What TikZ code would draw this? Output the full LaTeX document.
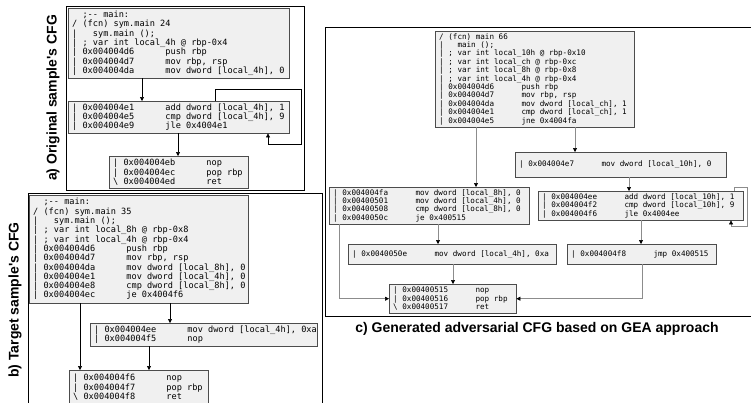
\documentclass[tikz,border=0pt]{standalone}
\usepackage{fontspec}
\usetikzlibrary{arrows.meta}
\newfontfamily\asmfont{DejaVu Sans Mono}
\newfontfamily\capfont{Liberation Sans}
% fixed-width spaces for the listings
\newcommand\gap[1]{\hspace*{#1\dimexpr0.602em\relax}}
\newcommand\cmt[1]{\mbox{\spaceskip=0.602em\relax#1}}
% one line of disassembly: marker, address, instruction
\newcommand\ins[3][|]{\cmt{#1\gap1#2\gap6#3}}
\tikzset{
  blk/.style={draw=black!70, fill=black!6, anchor=north west, inner xsep=4pt, inner ysep=2pt, align=left},
  asmab/.style={font=\asmfont\fontsize{8.6}{9.3}\selectfont},
  asmc/.style={font=\asmfont\fontsize{7.6}{8.4}\selectfont},
  frm/.style={draw=black, line width=0.8pt},
  arr/.style={-{Triangle[length=4pt,width=4pt]}, line width=0.6pt},
  garr/.style={-{Triangle[length=4pt,width=4pt,color=black]}, line width=0.6pt, draw=black!45},
  lbl/.style={font=\capfont\bfseries\fontsize{14}{16}\selectfont}
}
\begin{document}
\begin{tikzpicture}[x=1pt,y=-1pt]
    \clip (0,0) rectangle (751,402);
    % panel frames
    \draw[frm] (66,6) rectangle (304,190);
    \draw[frm] (28,193) rectangle (322,420);
    \draw[frm] (325,27) rectangle (760,316);

    % a) original sample
    \node[blk, asmab, text width=213pt, minimum height=70pt] (a1) at (68,8) {%
        \cmt{\gap2;-{}- main:}\\
        \cmt{/ (fcn) sym.main 24}\\
        \cmt{|\gap3sym.main ();}\\
        \cmt{| ; var int local\_4h @ rbp-0x4}\\
        \ins{0x004004d6}{push rbp}\\
        \ins{0x004004d7}{mov rbp, rsp}\\
        \ins{0x004004da}{mov dword [local\_4h], 0}};
    \node[blk, asmab, text width=213pt, minimum height=32pt] (a2) at (68,101) {%
        \ins{0x004004e1}{add dword [local\_4h], 1}\\
        \ins{0x004004e5}{cmp dword [local\_4h], 9}\\
        \ins{0x004004e9}{jle 0x4004e1}};
    \node[blk, asmab, text width=131pt, minimum height=32pt] (a3) at (109,156) {%
        \ins{0x004004eb}{nop}\\
        \ins{0x004004ec}{pop rbp}\\
        \ins[\textbackslash]{0x004004ed}{ret}};
    \draw[arr] ([xshift=74pt]a1.south west) -- ([xshift=74pt]a2.north west);
    \draw[arr] ([xshift=110pt]a2.south west) -- ([xshift=69pt]a3.north west);
    \draw[arr] ([xshift=147pt]a2.north west) -- ++(0,-12) -| (301,144) -| ([xshift=200pt]a2.south west); % loop back
    \node[lbl, rotate=90] (la) at (53,98) {a) Original sample's CFG};

    % b) target sample
    \node[blk, asmab, text width=211pt, minimum height=108pt] (b1) at (29,195) {%
        \cmt{\gap2;-{}- main:}\\
        \cmt{/ (fcn) sym.main 35}\\
        \cmt{|\gap3sym.main ();}\\
        \cmt{| ; var int local\_8h @ rbp-0x8}\\
        \cmt{| ; var int local\_4h @ rbp-0x4}\\
        \ins{0x004004d6}{push rbp}\\
        \ins{0x004004d7}{mov rbp, rsp}\\
        \ins{0x004004da}{mov dword [local\_8h], 0}\\
        \ins{0x004004e1}{mov dword [local\_4h], 0}\\
        \ins{0x004004e8}{cmp dword [local\_8h], 0}\\
        \ins{0x004004ec}{je 0x4004f6}};
    \node[blk, asmab, text width=219pt, minimum height=23pt] (b2) at (90,323) {%
        \ins{0x004004ee}{mov dword [local\_4h], 0xa}\\
        \ins{0x004004f5}{nop}};
    \node[blk, asmab, text width=131pt, minimum height=34pt] (b3) at (69,370) {%
        \ins{0x004004f6}{nop}\\
        \ins{0x004004f7}{pop rbp}\\
        \ins[\textbackslash]{0x004004f8}{ret}};
    \draw[arr] ([xshift=141pt]b1.south west) -- ([xshift=80pt]b2.north west);
    \draw[arr] ([xshift=51pt]b1.south west) -- ([xshift=11pt]b3.north west);
    \draw[arr] ([xshift=59pt]b2.south west) -- ([xshift=80pt]b3.north west);
    \node[lbl, rotate=90] (lb) at (15,300) {b) Target sample's CFG};

    % c) generated adversarial sample
    \node[blk, asmc, text width=191pt, minimum height=96pt] (c1) at (435,31) {%
        \cmt{/ (fcn) main 66}\\
        \cmt{|\gap3main ();}\\
        \cmt{| ; var int local\_10h @ rbp-0x10}\\
        \cmt{| ; var int local\_ch @ rbp-0xc}\\
        \cmt{| ; var int local\_8h @ rbp-0x8}\\
        \cmt{| ; var int local\_4h @ rbp-0x4}\\
        \ins{0x004004d6}{push rbp}\\
        \ins{0x004004d7}{mov rbp, rsp}\\
        \ins{0x004004da}{mov dword [local\_ch], 1}\\
        \ins{0x004004e1}{cmp dword [local\_ch], 1}\\
        \ins{0x004004e5}{jne 0x4004fa}};
    \node[blk, asmc, text width=203pt, minimum height=25pt] (c2) at (515,152) {%
        \ins{0x004004e7}{mov dword [local\_10h], 0}};
    \node[blk, asmc, text width=192pt, minimum height=36pt] (c3) at (329,187) {%
        \ins{0x004004fa}{mov dword [local\_8h], 0}\\
        \ins{0x00400501}{mov dword [local\_4h], 0}\\
        \ins{0x00400508}{cmp dword [local\_8h], 0}\\
        \ins{0x0040050c}{je 0x400515}};
    \node[blk, asmc, text width=197pt, minimum height=29pt] (c4) at (538,191) {%
        \ins{0x004004ee}{add dword [local\_10h], 1}\\
        \ins{0x004004f2}{cmp dword [local\_10h], 9}\\
        \ins{0x004004f6}{jle 0x4004ee}};
    \node[blk, asmc, text width=200pt, minimum height=20pt] (c5) at (348,244) {%
        \ins{0x0040050e}{mov dword [local\_4h], 0xa}};
    \node[blk, asmc, text width=141pt, minimum height=20pt] (c6) at (567,244) {%
        \ins{0x004004f8}{jmp 0x400515}};
    \node[blk, asmc, text width=119pt, minimum height=29pt] (c7) at (389,284) {%
        \ins{0x00400515}{nop}\\
        \ins{0x00400516}{pop rbp}\\
        \ins[\textbackslash]{0x00400517}{ret}};
    \draw[garr] ([xshift=41pt]c1.south west) -- ([xshift=147pt]c3.north west);
    \draw[garr] ([xshift=140pt]c1.south west) -- ([xshift=60pt]c2.north west);
    \draw[garr] ([xshift=114pt]c2.south west) -- ([xshift=91pt]c4.north west);
    \draw[garr] ([xshift=196pt]c4.north west) -- ++(0,-4) -| (747,226) -| ([xshift=193pt]c4.south west); % loop back
    \draw[garr] ([xshift=109pt]c3.south west) -- ([xshift=90pt]c5.north west);
    \draw[garr] ([xshift=103pt]c4.south west) -- ([xshift=74pt]c6.north west);
    \draw[garr] ([xshift=105pt]c5.south west) -- ([xshift=64pt]c7.north west);
    \draw[garr] ([xshift=10pt]c3.south west) |- (c7.west);
    \draw[garr] ([xshift=75pt]c6.south west) |- (c7.east);
    \node[lbl] (lc) at (537,329) {c) Generated adversarial CFG based on GEA approach};
\end{tikzpicture}
\end{document}
